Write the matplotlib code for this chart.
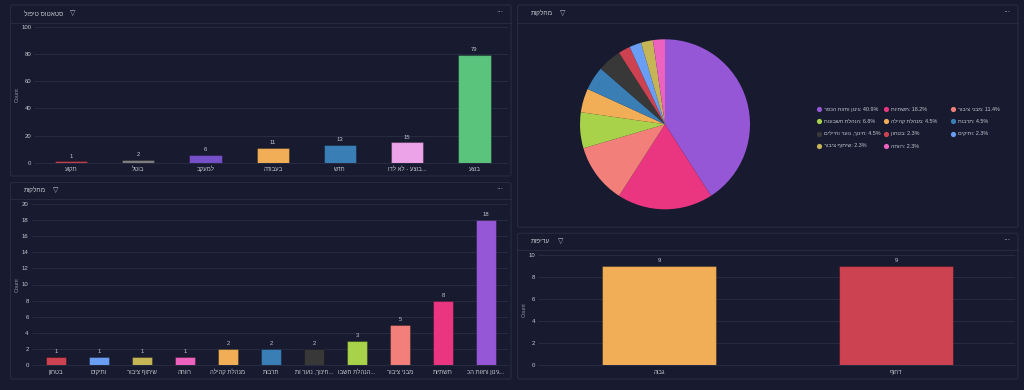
import matplotlib
matplotlib.use("Agg")
from matplotlib import pyplot as plt
from matplotlib.patches import FancyBboxPatch

# data
status_labels = ['תקוע', 'בוטל', 'למעקב', 'בעבודה', 'חדש', '...בוצע - לא לדו', 'בוצע']
status_counts = [1, 2, 6, 11, 13, 15, 79]
status_colors = ['#cc4050', '#808080', '#7650c9', '#f2ae57', '#3a7eb6', '#eca3e8', '#5ac47d']

dept_labels = ['בטחון', 'ותיקים', 'שיתוף ציבור', 'רווחה', 'מנהלת קהילה', 'תרבות',
               '...חינוך, נוער ות', '...הנהלת חשבו', 'מבני ציבור', 'תשתיות', '...גינון וחזות הכ']
dept_counts = [1, 1, 1, 1, 2, 2, 2, 3, 5, 8, 18]
dept_colors = ['#cd4250', '#6a9ef5', '#c6b556', '#ee62bf', '#f2ae57', '#3a7eb6',
               '#383838', '#a8d24a', '#f27f79', '#ea3581', '#9657d6']

pie_names = ['גינון וחזות הכפר', 'תשתיות', 'מבני ציבור', 'הנהלת חשבונות', 'מנהלת קהילה', 'תרבות',
             'חינוך, נוער וחיילים', 'בטחון', 'ותיקים', 'שיתוף ציבור', 'רווחה']
pie_counts = [18, 8, 5, 3, 2, 2, 2, 1, 1, 1, 1]
pie_pcts = ['40.9%', '18.2%', '11.4%', '6.8%', '4.5%', '4.5%', '4.5%', '2.3%', '2.3%', '2.3%', '2.3%']
pie_colors = ['#9657d6', '#ea3581', '#f27f79', '#a8d24a', '#f2ae57', '#3a7eb6',
              '#383838', '#cd4250', '#6a9ef5', '#c6b556', '#ee62bf']

prio_labels = ['גבוה', 'דחוף']
prio_counts = [9, 9]
prio_colors = ['#f2ae57', '#cd4250']

BG = '#181b30'
LINE = '#272b42'
TXT = '#c4c6cc'
W, H = 1024, 390

plt.rcParams['font.family'] = ['Liberation Sans', 'DejaVu Sans']


def heb(s):
    # matplotlib has no bidi, so hebrew goes in visual order
    return s[::-1]


def px_axes(x0, y0, x1, y1):
    return fig.add_axes([x0 / W, 1 - y1 / H, (x1 - x0) / W, (y1 - y0) / H])


def panel(x0, y0, x1, y1, head_y, title, title_x, filter_x):
    back.add_patch(FancyBboxPatch((x0 + 2, y0 + 2), x1 - x0 - 4, y1 - y0 - 4,
                                  boxstyle='round,pad=2', fc=BG, ec=LINE, lw=0.8))
    back.plot([x0, x1], [head_y, head_y], color=LINE, lw=0.8)
    mid = (y0 + head_y) / 2
    back.text(title_x, mid, heb(title), color=TXT, fontsize=4.7, va='center', ha='left')
    back.text(filter_x, mid, '▽', color=TXT, fontsize=5, va='center', ha='center')
    back.text(x1 - 11, mid - 1, '···', color=TXT, fontsize=5, va='center', ha='center')


def bar_chart(box, labels, counts, colors, ymax, step, count_x):
    ax = px_axes(*box)
    ax.patch.set_alpha(0)
    x = list(range(len(labels)))
    bars = ax.bar(x, counts, width=0.48, color=colors, edgecolor='#00000044', linewidth=0.8, zorder=3)
    ax.bar_label(bars, padding=2, color=TXT, fontsize=4.2)
    ax.set_xlim(-0.5, len(labels) - 0.5)
    ax.set_ylim(0, ymax)
    ax.set_yticks(range(0, ymax + 1, step))
    ax.set_xticks(x, [heb(s) for s in labels])
    ax.tick_params(axis='x', length=0, pad=6.2, labelsize=4.3, labelcolor=TXT)
    for lab in ax.get_xticklabels():
        lab.set_verticalalignment('baseline')
    ax.tick_params(axis='y', length=2.2, width=0.8, color=LINE, pad=2, labelsize=4.3, labelcolor=TXT)
    ax.grid(axis='y', color=LINE, lw=0.8, zorder=0)
    ax.set_axisbelow(True)
    for side in ['top', 'right', 'left', 'bottom']:
        ax.spines[side].set_visible(False)
    ax.spines['bottom'].set_visible(True)
    ax.spines['bottom'].set_color(LINE)
    ax.spines['bottom'].set_linewidth(0.8)
    ax.set_ylabel('Count', color='#8f919c', fontsize=4)
    ax.yaxis.set_label_coords((count_x - box[0]) / (box[2] - box[0]), 0.5)
    return ax


fig = plt.figure(figsize=(W / 100, H / 100), dpi=100, facecolor=BG)

back = fig.add_axes([0, 0, 1, 1])
back.set_xlim(0, W)
back.set_ylim(H, 0)
back.axis('off')

panel(10.5, 5, 511, 176, 22.7, 'סטאטוס טיפול', 23.5, 73)
panel(10.5, 182.5, 511, 379, 199.3, 'מחלקות', 23.5, 56)
panel(517.5, 5, 1018, 227.3, 22.7, 'מחלקות', 531, 563)
panel(517.5, 233.3, 1018, 379, 250.3, 'עדיפות', 531, 561)

bar_chart((37.4, 26.7, 508, 162.7), status_labels, status_counts, status_colors, 100, 20, 20)
bar_chart((34.5, 203.7, 507.5, 365.3), dept_labels, dept_counts, dept_colors, 20, 2, 20)
bar_chart((540.8, 254.7, 1014.8, 365.3), prio_labels, prio_counts, prio_colors, 10, 2, 527)

pie_ax = px_axes(580, 39.3, 750, 209.3)
pie_ax.pie(pie_counts, colors=pie_colors, startangle=90, counterclock=False, radius=1,
           wedgeprops={'linewidth': 0, 'clip_on': False})
pie_ax.set_xlim(-1, 1)
pie_ax.set_ylim(-1, 1)

# legend, three columns filled row by row
leg_x = [818.7, 886, 953]
leg_y = [109.3, 121.3, 133.7, 146]
for i, name in enumerate(pie_names):
    lx = leg_x[i % 3]
    ly = leg_y[i // 3]
    back.scatter([lx], [ly], s=14, color=pie_colors[i], linewidths=0, zorder=5)
    back.text(lx + 5, ly, heb(name) + ': ' + pie_pcts[i], color=TXT, fontsize=3.9, va='center', ha='left')

fig.savefig('out.png', dpi=100, facecolor=BG)
